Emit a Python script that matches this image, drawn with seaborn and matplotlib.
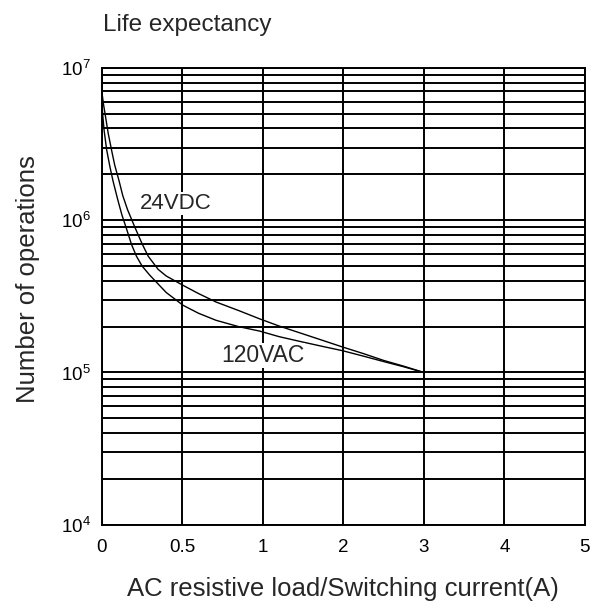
import numpy as np
import pandas as pd
import matplotlib
matplotlib.use("Agg")
import matplotlib.pyplot as plt
from matplotlib.ticker import FixedLocator, LogLocator, NullFormatter
import seaborn as sns

# curves (current in A, number of operations)
dc_current = [0.0, 0.01, 0.02, 0.04, 0.06, 0.08, 0.106, 0.13, 0.16, 0.205, 0.25, 0.288, 0.35,
              0.4, 0.505, 0.6, 0.71, 0.85, 0.98, 1.2, 1.46, 1.75, 1.99, 2.25, 2.5, 2.75, 3.0]
dc_ops = [7.0e6, 5.8e6, 5.0e6, 3.7e6, 2.9e6, 2.3e6, 1.83e6, 1.45e6, 1.17e6, 9.0e5, 7.0e5, 5.8e5, 4.75e5,
          4.3e5, 3.73e5, 3.3e5, 2.9e5, 2.55e5, 2.25e5, 2.02e5, 1.82e5, 1.62e5, 1.47e5, 1.33e5, 1.2e5, 1.1e5, 1.0e5]

ac_current = [0.0, 0.005, 0.014, 0.03, 0.05, 0.07, 0.1, 0.125, 0.153, 0.185, 0.215, 0.25, 0.298,
              0.4, 0.505, 0.6, 0.71, 0.85, 0.98, 1.2, 1.46, 1.75, 1.99, 2.25, 2.5, 2.75, 3.0]
ac_ops = [6.0e6, 5.0e6, 3.9e6, 2.9e6, 2.25e6, 1.8e6, 1.35e6, 1.08e6, 8.8e5, 6.9e5, 5.8e5, 5.0e5, 4.35e5,
          3.35e5, 2.76e5, 2.45e5, 2.2e5, 2.0e5, 1.87e5, 1.72e5, 1.6e5, 1.48e5, 1.39e5, 1.28e5, 1.18e5, 1.09e5, 1.0e5]

x_ticks = [0, 0.5, 1, 2, 3, 4, 5]
x_tick_labels = ["0", "0.5", "1", "2", "3", "4", "5"]

df = pd.concat([
    pd.DataFrame({"current": dc_current, "ops": dc_ops, "load": "24VDC"}),
    pd.DataFrame({"current": ac_current, "ops": ac_ops, "load": "120VAC"}),
])

sns.set_style("white")
plt.rcParams["font.family"] = ["Liberation Sans", "DejaVu Sans"]
plt.rcParams["mathtext.fontset"] = "custom"
plt.rcParams["mathtext.rm"] = "Liberation Sans"
plt.rcParams["mathtext.it"] = "Liberation Sans:italic"


# 0..1 A takes two grid cells, then one cell per amp
def fwd(x):
    x = np.asarray(x, dtype=float)
    return np.where(x <= 1, 2 * x, x + 1)


def inv(p):
    p = np.asarray(p, dtype=float)
    return np.where(p <= 2, p / 2, p - 1)


fig = plt.figure(figsize=(5.92, 6.06), dpi=100)
ax = fig.add_axes([0.172, 0.134, 0.816, 0.754])

ax.set_xscale("function", functions=(fwd, inv))
ax.set_yscale("log")

sns.lineplot(data=df, x="current", y="ops", hue="load", units="load", estimator=None,
             sort=False, palette=["black", "black"], linewidth=1.0, legend=False, ax=ax)

ax.set_xlim(0, 5)
ax.set_ylim(1e4, 1e7)
ax.xaxis.set_major_locator(FixedLocator(x_ticks))
ax.set_xticklabels(x_tick_labels)
ax.yaxis.set_major_locator(LogLocator(base=10, numticks=10))
ax.yaxis.set_minor_locator(LogLocator(base=10, subs=np.arange(2, 10), numticks=20))
ax.yaxis.set_minor_formatter(NullFormatter())

ax.grid(which="both", axis="y", color="black", linewidth=1.4)
ax.grid(which="major", axis="x", color="black", linewidth=1.4)
for s in ax.spines.values():
    s.set_color("black")
    s.set_linewidth(1.4)
ax.tick_params(axis="both", which="both", length=0, labelsize=13.5, colors="black")
ax.tick_params(axis="x", pad=10)
ax.tick_params(axis="y", pad=8)

ax.set_xlabel("AC resistive load/Switching current(A)", fontsize=18.5, labelpad=15)
ax.set_ylabel("Number of operations", fontsize=18.5)
ax.yaxis.set_label_coords(-0.128, 0.538)

# curve labels blank out the vertical grid line behind them, like the original
box = dict(facecolor="white", edgecolor="none", pad=0.5)
ax.text(0.236, 1.29e6, "24VDC", fontsize=16, va="center", ha="left", bbox=box)
ax.text(0.74, 1.29e5, "120VAC", fontsize=16.5, va="center", ha="left", bbox=box)

fig.text(103 / 592, 1 - 25 / 606, "Life expectancy", fontsize=17.5, va="center", ha="left")

fig.savefig("out.png", dpi=100, facecolor="white")
